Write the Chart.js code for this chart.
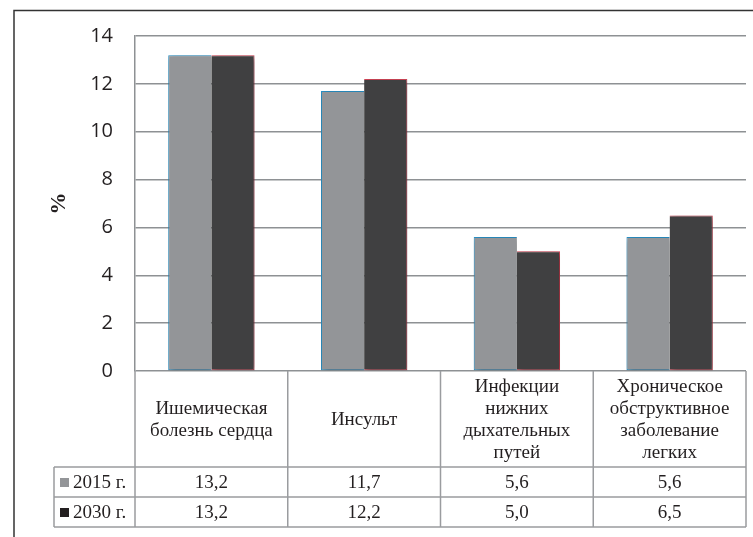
<!DOCTYPE html>
<html>
<head>
<meta charset="utf-8">
<script src="https://cdn.jsdelivr.net/npm/chart.js@4"></script>
<style>
  html, body { margin: 0; padding: 0; background: #fff; }
  #wrap { width: 753px; height: 537px; position: relative; }
</style>
</head>
<body>
<div id="wrap"><canvas id="c" width="753" height="537"></canvas></div>
<script>
// Causes of death, share of all deaths, %
const categories = [
  ['Ишемическая', 'болезнь сердца'],
  ['Инсульт'],
  ['Инфекции', 'нижних', 'дыхательных', 'путей'],
  ['Хроническое', 'обструктивное', 'заболевание', 'легких']
];
const seriesNames = ['2015 г.', '2030 г.'];
const values2015 = [13.2, 11.7, 5.6, 5.6];
const values2030 = [13.2, 12.2, 5.0, 6.5];
const yTicks = [0, 2, 4, 6, 8, 10, 12, 14];

const GRAY = '#939598';
const DARK = '#404041';
const GRID = '#8e9194';
const TEXT = '#231f20';

const fmt = v => v.toFixed(1).replace('.', ',');

// soft drop shadow under the bars
const barShadow = {
  id: 'barShadow',
  beforeDatasetsDraw(chart) {
    const ctx = chart.ctx;
    ctx.save();
    ctx.shadowColor = 'rgba(0,0,0,0.45)';
    ctx.shadowBlur = 6;
    ctx.shadowOffsetX = 2;
    ctx.shadowOffsetY = 2;
  },
  afterDatasetsDraw(chart) {
    chart.ctx.restore();
  }
};

// frame + data table under the plot
const dataTable = {
  id: 'dataTable',
  beforeDraw(chart) {
    const ctx = chart.ctx;
    ctx.save();
    ctx.fillStyle = '#fff';
    ctx.fillRect(0, 0, chart.width, chart.height);
    ctx.strokeStyle = '#333';
    ctx.lineWidth = 1.5;
    ctx.beginPath();
    ctx.moveTo(14, chart.height);
    ctx.lineTo(14, 10.5);
    ctx.lineTo(chart.width, 10.5);
    ctx.stroke();
    ctx.restore();
  },
  afterDraw(chart) {
    const ctx = chart.ctx;
    const x = chart.scales.x;
    const area = chart.chartArea;
    const n = categories.length;
    const step = (area.right - area.left) / n;
    const edges = [];
    for (let i = 0; i <= n; i++) edges.push(area.left + i * step);
    const top = area.bottom;
    const headBottom = 467;
    const rowH = 30;
    const legendLeft = 54;
    const tableBottom = headBottom + rowH * 2;

    ctx.save();
    ctx.strokeStyle = '#9a9c9f';
    ctx.lineWidth = 1.5;
    ctx.beginPath();
    edges.forEach(ex => { ctx.moveTo(ex, top); ctx.lineTo(ex, tableBottom); });
    for (let r = 0; r <= 2; r++) {
      const y = headBottom + r * rowH;
      ctx.moveTo(legendLeft, y); ctx.lineTo(edges[n], y);
    }
    ctx.moveTo(legendLeft, headBottom); ctx.lineTo(legendLeft, tableBottom);
    ctx.stroke();

    ctx.fillStyle = TEXT;
    ctx.font = '19px "Liberation Serif", "Times New Roman", serif';
    ctx.textAlign = 'center';
    ctx.textBaseline = 'middle';
    const lh = 21.7;
    const headMid = (top + headBottom) / 2 + 1;
    categories.forEach((lines, i) => {
      const cx = x.getPixelForValue(i);
      const y0 = headMid - (lines.length - 1) * lh / 2;
      lines.forEach((t, k) => ctx.fillText(t, cx, y0 + k * lh));
    });

    const series = [values2015, values2030];
    const colors = [GRAY, '#231f20'];
    series.forEach((vals, r) => {
      const cy = headBottom + r * rowH + rowH / 2 + 1;
      vals.forEach((v, i) => {
        ctx.textAlign = 'center';
        ctx.fillText(fmt(v), x.getPixelForValue(i), cy);
      });
      ctx.fillStyle = colors[r];
      ctx.fillRect(60, cy - 5, 9, 9);
      ctx.fillStyle = TEXT;
      ctx.textAlign = 'left';
      ctx.fillText(seriesNames[r], 73, cy);
    });
    ctx.restore();
  }
};

new Chart(document.getElementById('c'), {
  type: 'bar',
  data: {
    labels: categories,
    datasets: [
      {
        label: seriesNames[0],
        data: values2015,
        backgroundColor: GRAY,
        borderColor: '#2b93c9',
        borderWidth: { top: 1, left: 1, bottom: 1, right: 0 },
        borderSkipped: false
      },
      {
        label: seriesNames[1],
        data: values2030,
        backgroundColor: DARK,
        borderColor: '#d8485a',
        borderWidth: { top: 1, left: 0, bottom: 1, right: 1 },
        borderSkipped: false
      }
    ]
  },
  options: {
    responsive: false,
    animation: false,
    devicePixelRatio: 1,
    layout: { padding: { left: 30, top: 36, right: 7, bottom: 166 } },
    plugins: { legend: { display: false }, tooltip: { enabled: false } },
    datasets: { bar: { categoryPercentage: 0.565, barPercentage: 1.0 } },
    scales: {
      x: { display: false },
      y: {
        min: yTicks[0],
        max: yTicks[yTicks.length - 1],
        afterFit(scale) { scale.width = 105; },
        afterBuildTicks(scale) { scale.ticks = yTicks.map(v => ({ value: v })); },
        ticks: {
          color: TEXT,
          padding: 22,
          font: { family: '"Open Sans", sans-serif', size: 20 }
        },
        grid: { color: GRID, lineWidth: 1.5, drawTicks: false },
        border: { color: GRID, width: 1.5 },
        title: {
          display: true,
          text: '%',
          color: TEXT,
          padding: { top: 16, bottom: 0 },
          font: { family: '"Liberation Serif", serif', size: 22, weight: 'bold' }
        }
      }
    }
  },
  plugins: [barShadow, dataTable]
});
</script>
</body>
</html>
